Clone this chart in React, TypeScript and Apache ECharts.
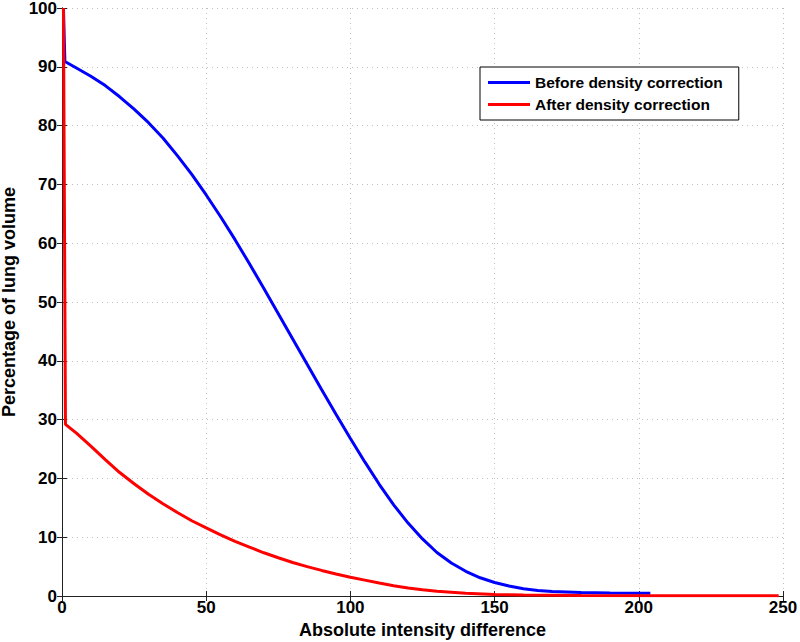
import React, { useEffect, useRef } from "react";
import * as echarts from "echarts";

const xTicks = [0, 50, 100, 150, 200, 250];
const yTicks = [0, 10, 20, 30, 40, 50, 60, 70, 80, 90, 100];

const seriesNames = ["Before density correction", "After density correction"];

const beforeX = [0.5, 1, 5, 10, 15, 20, 25, 30, 35, 40, 45, 50, 55, 60, 65, 70, 75, 80, 85, 90, 95, 100, 105, 110, 115, 120, 125, 130, 135, 140, 145, 150, 155, 160, 165, 170, 180, 190, 204];
const beforeY = [100, 90.9, 89.8, 88.4, 86.8, 84.9, 82.8, 80.5, 77.9, 74.9, 71.7, 68.2, 64.5, 60.6, 56.5, 52.3, 48.0, 43.7, 39.4, 35.1, 30.9, 26.8, 22.8, 19.0, 15.5, 12.4, 9.7, 7.4, 5.6, 4.2, 3.1, 2.3, 1.7, 1.25, 0.95, 0.75, 0.58, 0.5, 0.45];

const afterX = [0.5, 1.2, 5, 10, 15, 20, 25, 30, 35, 40, 45, 50, 55, 60, 65, 70, 75, 80, 85, 90, 95, 100, 105, 110, 115, 120, 125, 130, 140, 150, 160, 180, 210, 248.5];
const afterY = [100, 29.2, 27.7, 25.5, 23.2, 21.0, 19.1, 17.3, 15.7, 14.2, 12.8, 11.6, 10.4, 9.3, 8.3, 7.35, 6.5, 5.7, 5.0, 4.35, 3.75, 3.2, 2.7, 2.2, 1.75, 1.35, 1.05, 0.8, 0.45, 0.27, 0.17, 0.08, 0.05, 0.05];

const FONT = "'Liberation Sans', Arial, Helvetica, sans-serif";

export default function App() {
  const ref = useRef<HTMLDivElement>(null);
  useEffect(() => {
    if (!ref.current) return;
    const chart = echarts.init(ref.current, undefined, { renderer: "svg" });
    const before = beforeX.map((x, i) => [x, beforeY[i]]);
    const after = afterX.map((x, i) => [x, afterY[i]]);
    const axisLine = { show: true, lineStyle: { color: "#222", width: 1 } };
    const tick = { show: true, inside: true, length: 5, lineStyle: { color: "#222" } };
    const split = { show: true, lineStyle: { color: "#c0c0c0", type: [1, 4] as any, width: 1 } };
    chart.setOption({
      animation: false,
      backgroundColor: "#fff",
      grid: { left: 62, right: 17, top: 8, bottom: 46, containLabel: false, outerBoundsMode: "none" },
      legend: {
        orient: "vertical",
        left: 480,
        top: 67,
        data: seriesNames,
        icon: "rect",
        itemWidth: 42,
        itemHeight: 3,
        itemGap: 5,
        padding: [7, 16, 7, 8],
        borderColor: "#000",
        borderWidth: 1,
        backgroundColor: "#fff",
        borderRadius: 0,
        textStyle: { fontFamily: FONT, fontWeight: "bold", fontSize: 15.5, color: "#000", lineHeight: 17 },
      },
      xAxis: [
        {
          type: "value",
          min: 0,
          max: 250,
          interval: 50,
          name: "Absolute intensity difference",
          nameLocation: "middle",
          nameGap: 21,
          nameTextStyle: { fontFamily: FONT, fontWeight: "bold", fontSize: 18, color: "#000" },
          axisLine,
          axisTick: tick,
          splitLine: split,
          axisLabel: {
            fontFamily: FONT,
            fontWeight: "bold",
            fontSize: 17,
            color: "#000",
            margin: 3,
            formatter: (v: number) => (xTicks.includes(v) ? String(v) : ""),
          },
        },
        {
          type: "value",
          position: "top",
          min: 0,
          max: 250,
          interval: 50,
          axisLine,
          axisTick: tick,
          splitLine: { show: false },
          axisLabel: { show: false },
        },
      ],
      yAxis: [
        {
          type: "value",
          min: 0,
          max: 100,
          interval: 10,
          name: "Percentage of lung volume",
          nameLocation: "middle",
          nameGap: 37,
          nameTextStyle: { fontFamily: FONT, fontWeight: "bold", fontSize: 18, color: "#000" },
          axisLine,
          axisTick: tick,
          splitLine: split,
          axisLabel: {
            fontFamily: FONT,
            fontWeight: "bold",
            fontSize: 17,
            color: "#000",
            margin: 5,
            formatter: (v: number) => (yTicks.includes(v) ? String(v) : ""),
          },
        },
        {
          type: "value",
          position: "right",
          min: 0,
          max: 100,
          interval: 10,
          axisLine,
          axisTick: tick,
          splitLine: { show: false },
          axisLabel: { show: false },
        },
      ],
      series: [
        {
          name: seriesNames[0],
          type: "line",
          data: before,
          showSymbol: false,
          symbol: "none",
          lineStyle: { color: "#0000ff", width: 3 },
          itemStyle: { color: "#0000ff" },
          z: 2,
        },
        {
          name: seriesNames[1],
          type: "line",
          data: after,
          showSymbol: false,
          symbol: "none",
          lineStyle: { color: "#ff0000", width: 3 },
          itemStyle: { color: "#ff0000" },
          z: 3,
        },
      ],
    });
    return () => chart.dispose();
  }, []);
  return <div ref={ref} style={{ width: 800, height: 642, position: "absolute", left: 0, top: 0 }} />;
}
